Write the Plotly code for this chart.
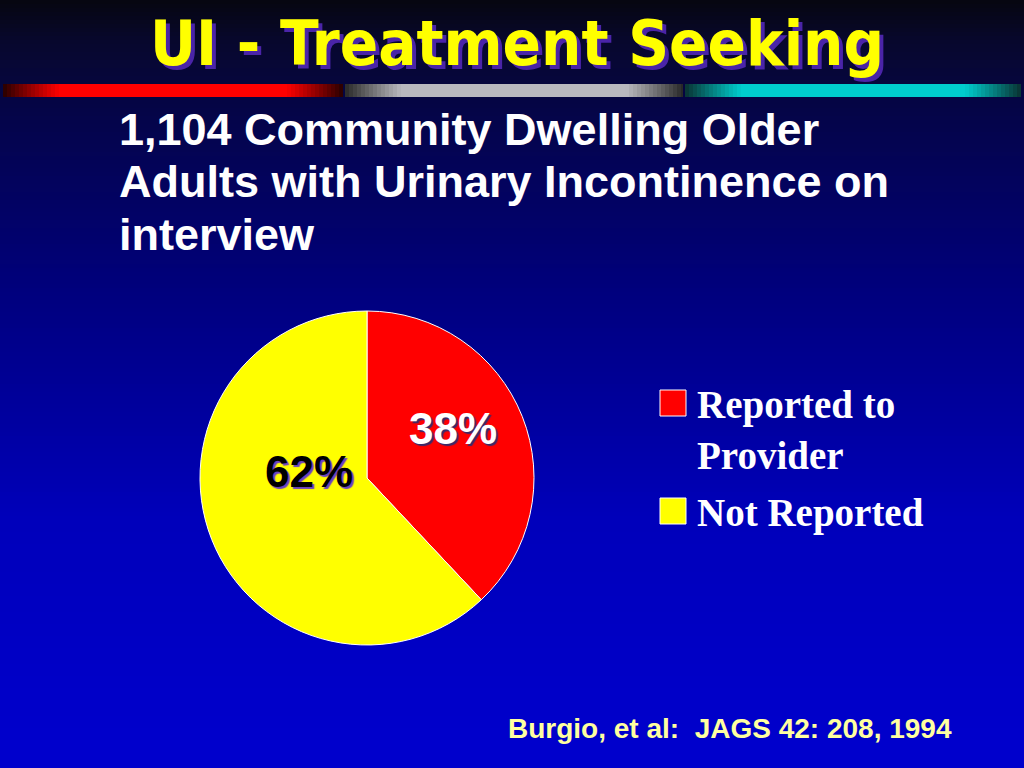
import plotly.graph_objects as go
import numpy as np

# ---- data ----
categories = ["Reported to Provider", "Not Reported"]
legend_labels = ["Reported to<br>Provider", "Not Reported"]
values = [38, 62]
slice_colors = ["#ff0000", "#ffff00"]
title_text = "UI - Treatment Seeking"
subtitle_lines = ["1,104 Community Dwelling Older",
                  "Adults with Urinary Incontinence on",
                  "interview"]
citation = "Burgio, et al:  JAGS 42: 208, 1994"

W, H = 1024, 768


def px(x):
    return x / W


def py(y):
    return 1 - y / H


shapes = []

# background vertical gradient (bands)
stops_y = [0, 40, 120, 300, 520, 740, 768]
stops_r = [6, 8, 5, 0, 0, 0, 0]
stops_g = [6, 8, 5, 0, 0, 0, 0]
stops_b = [16, 45, 75, 128, 187, 204, 204]
band = 4
for y0 in range(0, H, band):
    yc = y0 + band / 2
    r = int(np.interp(yc, stops_y, stops_r))
    g = int(np.interp(yc, stops_y, stops_g))
    b = int(np.interp(yc, stops_y, stops_b))
    shapes.append(dict(type="rect", xref="paper", yref="paper",
                       x0=0, x1=1, y0=py(y0 + band + 0.5), y1=py(y0),
                       fillcolor=f"rgb({r},{g},{b})", line_width=0, layer="below"))

# decorative stripe under title: three segments, dark at ends, bright in middle
segments = [(3, 343, (255, 0, 0), (40, 0, 0)),
            (345, 683, (185, 185, 190), (40, 40, 40)),
            (685, 1021, (0, 205, 205), (10, 50, 50))]
step = 4
for x0s, x1s, bright, dark in segments:
    for x in range(x0s, x1s, step):
        t = (x + step / 2 - x0s) / (x1s - x0s)
        k = min(1.0, np.sin(np.pi * t) * 2.0)
        c = [int(dark[i] + (bright[i] - dark[i]) * k) for i in range(3)]
        shapes.append(dict(type="rect", xref="paper", yref="paper",
                           x0=px(x), x1=px(min(x + step + 0.5, x1s)),
                           y0=py(97), y1=py(84),
                           fillcolor=f"rgb({c[0]},{c[1]},{c[2]})",
                           line_width=0, layer="below"))

# pie
cx, cy, d = 367, 478, 334
fig = go.Figure(go.Pie(
    labels=categories, values=values, sort=False, direction="clockwise",
    rotation=0, marker=dict(colors=slice_colors, line=dict(color="white", width=1)),
    textinfo="none", hoverinfo="label+percent", showlegend=False,
    domain=dict(x=[px(cx - d / 2), px(cx + d / 2)], y=[py(cy + d / 2), py(cy - d / 2)]),
))

annotations = []
# title
annotations.append(dict(
    text=f"<b>{title_text}</b>", x=px(517), y=py(44), xref="paper", yref="paper",
    showarrow=False, xanchor="center", yanchor="middle",
    font=dict(family="Liberation Sans Narrow, DejaVu Sans Condensed, Arial Narrow, sans-serif",
              size=63, color="#ffff00", shadow="4px 4px 0px #4a24a8")))
# subtitle
for i, line in enumerate(subtitle_lines):
    annotations.append(dict(
        text=f"<b>{line}</b>", x=px(117), y=py(129 + i * 53), xref="paper", yref="paper",
        showarrow=False, xanchor="left", yanchor="middle",
        font=dict(family="Liberation Sans, Arial, sans-serif", size=45, color="white")))
# slice labels
pct_pos = [(453, 428, "white", "2px 2px 1px #3a2a6a"),
           (309, 471, "black", "2px 2px 1px #6a40c0")]
for v, (x, y, col, sh) in zip(values, pct_pos):
    annotations.append(dict(
        text=f"<b>{v}%</b>", x=px(x), y=py(y), xref="paper", yref="paper",
        showarrow=False, xanchor="center", yanchor="middle",
        font=dict(family="Liberation Sans, Arial, sans-serif", size=44, color=col, shadow=sh)))
# legend
leg_y = [(403, 430), (511, 513)]
for lab, col, (sy, ty) in zip(legend_labels, slice_colors, leg_y):
    shapes.append(dict(type="rect", xref="paper", yref="paper",
                       x0=px(660), x1=px(686), y0=py(sy + 13), y1=py(sy - 13),
                       fillcolor=col, line=dict(color="white", width=1)))
    annotations.append(dict(
        text=f"<b>{lab}</b>", x=px(695), y=py(ty), xref="paper", yref="paper",
        showarrow=False, xanchor="left", yanchor="middle", align="left",
        font=dict(family="Liberation Serif, Times New Roman, serif", size=39, color="white")))
# citation
annotations.append(dict(
    text=f"<b>{citation}</b>", x=px(954), y=py(728), xref="paper", yref="paper",
    showarrow=False, xanchor="right", yanchor="middle",
    font=dict(family="Liberation Sans, Arial, sans-serif", size=28, color="#ffffa0")))

fig.update_layout(
    width=W, height=H, margin=dict(l=0, r=0, t=0, b=0),
    paper_bgcolor="#000080", plot_bgcolor="rgba(0,0,0,0)",
    shapes=shapes, annotations=annotations, showlegend=False,
)
fig.write_html("out.html", config={"displayModeBar": False},
               post_script="document.body.style.margin='0';document.body.style.overflow='hidden';")
